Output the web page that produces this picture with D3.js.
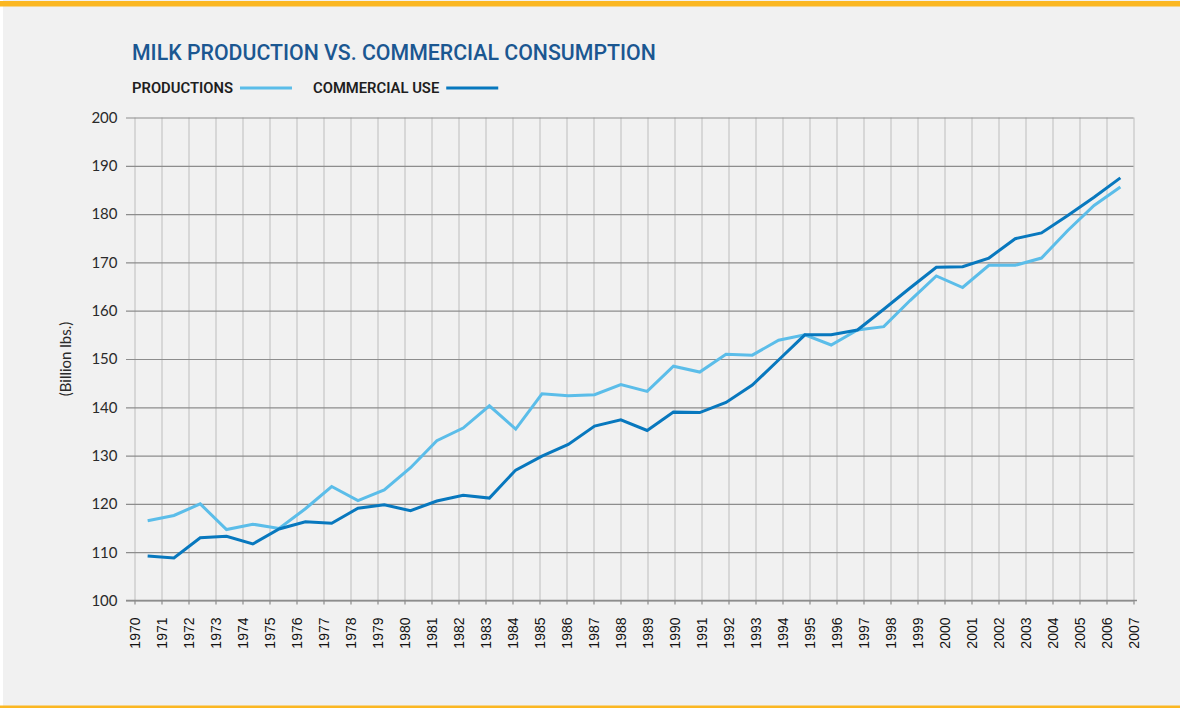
<!DOCTYPE html>
<html>
<head>
<meta charset="utf-8">
<script src="https://cdn.jsdelivr.net/npm/d3@7"></script>
<style>
  body { margin: 0; background: #f1f1f1; }
  svg { display: block; }
</style>
</head>
<body>
<svg width="1180" height="708"></svg>
<script>
// categories (one point per year)
const years = [1970, 1971, 1972, 1973, 1974, 1975, 1976, 1977, 1978, 1979,
  1980, 1981, 1982, 1983, 1984, 1985, 1986, 1987, 1988, 1989,
  1990, 1991, 1992, 1993, 1994, 1995, 1996, 1997, 1998, 1999,
  2000, 2001, 2002, 2003, 2004, 2005, 2006, 2007];

// billion lbs
const production = [116.5, 117.6, 120.0, 114.7, 115.8, 114.9, 119.0, 123.6, 120.7, 122.9,
  127.5, 133.1, 135.7, 140.3, 135.5, 142.8, 142.4, 142.6, 144.7, 143.3,
  148.5, 147.3, 151.0, 150.8, 153.9, 155.0, 152.9, 156.0, 156.7, 162.1,
  167.2, 164.8, 169.4, 169.4, 170.9, 176.6, 181.8, 185.6];
const commercial = [109.2, 108.8, 113.0, 113.3, 111.7, 114.8, 116.3, 116.0, 119.1, 119.8,
  118.6, 120.6, 121.8, 121.2, 127.0, 129.9, 132.3, 136.1, 137.4, 135.2,
  139.0, 138.9, 141.0, 144.6, 149.8, 155.0, 155.0, 156.0, 160.3, 164.7,
  169.0, 169.1, 170.9, 174.9, 176.1, 179.7, 183.5, 187.5];

// axis labels
const yearTicks = [1970, 1971, 1972, 1973, 1974, 1975, 1976, 1977, 1978, 1979,
  1980, 1981, 1982, 1983, 1984, 1985, 1986, 1987, 1988, 1989,
  1990, 1991, 1992, 1993, 1994, 1995, 1996, 1997, 1998, 1999,
  2000, 2001, 2002, 2003, 2004, 2005, 2006, 2007];
const valueTicks = [100, 110, 120, 130, 140, 150, 160, 170, 180, 190, 200];

const titleText = "MILK PRODUCTION VS. COMMERCIAL CONSUMPTION";
const seriesNames = ["PRODUCTIONS", "COMMERCIAL USE"];
const seriesColors = ["#5bbde9", "#0878be"];
const gridDark = "#8d8d8d";
const gridLight = "#c6c6c6";

let svg = d3.select("svg");
let plotLeft = 134.5, plotRight = 1133.5, plotTop = 117.5, plotBottom = 600.5, axisLeftX = 126;

// frame: orange rules top and bottom
svg.append("rect").attr("x", 0).attr("y", 0).attr("width", 1180).attr("height", 708).attr("fill", "#f1f1f1");
svg.append("rect").attr("x", 0).attr("y", 0).attr("width", 3).attr("height", 708).attr("fill", "#ffffff");
svg.append("rect").attr("x", 0).attr("y", 1).attr("width", 1180).attr("height", 5.5).attr("fill", "#fbb722");
svg.append("rect").attr("x", 0).attr("y", 705.5).attr("width", 1180).attr("height", 2.5).attr("fill", "#fbb722");

// scales: labels sit on the tick lines, points sit between them
let xAxisScale = d3.scaleLinear().domain([1970, 2007]).range([plotLeft, plotRight]);
let xScale = d3.scalePoint().domain(years).range([plotLeft, plotRight]).padding(0.5);
let yScale = d3.scaleLinear().domain([100, 200]).range([plotBottom, plotTop]);

// vertical grid
let vgrid = svg.append("g")
  .attr("transform", "translate(0," + plotBottom + ")")
  .call(d3.axisBottom(xAxisScale).tickValues(yearTicks).tickSize(-(plotBottom - plotTop)).tickFormat(""));
vgrid.select(".domain").remove();
vgrid.selectAll("line").attr("stroke", gridLight).attr("stroke-width", 1.2);

// horizontal grid + value labels
let ygrid = svg.append("g")
  .attr("transform", "translate(" + axisLeftX + ",0)")
  .call(d3.axisLeft(yScale).tickValues(valueTicks).tickSize(-(plotRight - axisLeftX)).tickPadding(8.5));
ygrid.select(".domain").remove();
ygrid.selectAll("line").attr("stroke", gridDark).attr("stroke-width", 1.2);
ygrid.selectAll("text")
  .attr("fill", "#2a2a2a")
  .style("font-family", "Lato, 'Open Sans', sans-serif")
  .style("font-weight", 400)
  .style("font-size", "15px");

// bottom axis with year labels
let xaxis = svg.append("g")
  .attr("transform", "translate(0," + plotBottom + ")")
  .call(d3.axisBottom(xAxisScale).tickValues(yearTicks).tickSizeInner(4).tickSizeOuter(0).tickFormat(d3.format("d")));
xaxis.select(".domain").attr("d", "M" + axisLeftX + ",0H" + (plotRight + 3.5)).attr("stroke", gridDark).attr("stroke-width", 1.4);
xaxis.selectAll("line").attr("stroke", gridDark).attr("stroke-width", 1.2);
xaxis.selectAll("text")
  .attr("transform", "rotate(-90)")
  .attr("text-anchor", "end")
  .attr("x", -17)
  .attr("y", 0)
  .attr("dy", "0.36em")
  .attr("fill", "#111")
  .style("font-family", "'Liberation Sans', Arial, sans-serif")
  .style("font-size", "14px");

// y axis title
svg.append("text")
  .attr("transform", "translate(71,359) rotate(-90)")
  .attr("text-anchor", "middle")
  .attr("fill", "#2a2a2a")
  .style("font-family", "Lato, 'Open Sans', sans-serif")
  .style("font-weight", 400)
  .style("font-size", "15px")
  .text("(Billion lbs.)");

// lines
let line = d3.line()
  .x(function(d, i) { return xScale(years[i]); })
  .y(function(d) { return yScale(d); });

[production, commercial].forEach(function(series, k) {
  svg.append("path")
    .datum(series)
    .attr("fill", "none")
    .attr("stroke", seriesColors[k])
    .attr("stroke-width", 3)
    .attr("d", line);
});

// title
svg.append("text")
  .attr("x", 132)
  .attr("y", 60)
  .attr("fill", "#1b5791")
  .style("font-family", "Roboto, sans-serif")
  .style("font-weight", 500)
  .style("font-size", "21.3px")
  .text(titleText);

// legend
let legendX = [132, 313];
seriesNames.forEach(function(name, k) {
  let t = svg.append("text")
    .attr("x", legendX[k])
    .attr("y", 93)
    .attr("fill", "#1e1e1e")
    .style("font-family", "Roboto, sans-serif")
    .style("font-weight", 600)
    .style("font-size", "14.8px")
    .text(name);
  let end = legendX[k] + t.node().getComputedTextLength();
  svg.append("line")
    .attr("x1", end + 7)
    .attr("x2", end + 59)
    .attr("y1", 88)
    .attr("y2", 88)
    .attr("stroke", seriesColors[k])
    .attr("stroke-width", 3);
});
</script>
</body>
</html>
